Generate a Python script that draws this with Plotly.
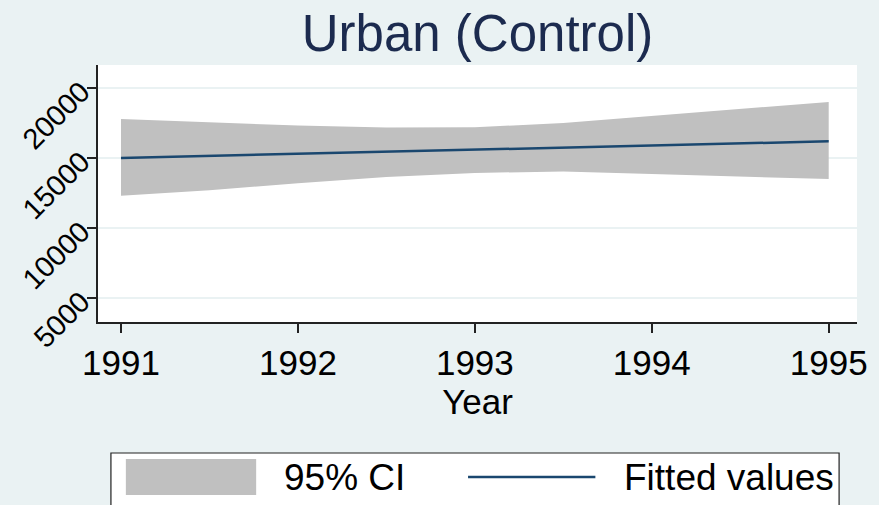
import plotly.graph_objects as go

# Linear fit of income on year with its 95% confidence band
band_years = [1991, 1991.5, 1992, 1992.5, 1993, 1993.5, 1994, 1994.5, 1995]
ci_upper = [17790, 17530, 17320, 17180, 17200, 17500, 18000, 18500, 19000]
ci_lower = [12300, 12700, 13200, 13650, 13930, 14040, 13850, 13680, 13500]

fit_years = [1991, 1995]
fit_values = [15000, 16190]

x_ticks = [1991, 1992, 1993, 1994, 1995]
y_ticks = [5000, 10000, 15000, 20000]

BG = "#EAF2F3"
NAVY = "#1A476F"
CI_GRAY = "#C0C0C0"
FONT = "Liberation Sans, Arial, sans-serif"

LEFT, RIGHT_MARGIN, TOP, BOTTOM = 98, 18, 65, 322
PLOT_W = 879 - RIGHT_MARGIN - LEFT
PLOT_H = BOTTOM - TOP

fig = go.Figure()

fig.add_trace(go.Scatter(
    x=band_years, y=ci_lower, mode="lines",
    line=dict(width=0, color=CI_GRAY), showlegend=False, hoverinfo="skip",
))
fig.add_trace(go.Scatter(
    x=band_years, y=ci_upper, mode="lines", fill="tonexty",
    fillcolor=CI_GRAY, line=dict(width=0, color=CI_GRAY),
    name="95% CI", showlegend=False,
))
fig.add_trace(go.Scatter(
    x=fit_years, y=fit_values, mode="lines",
    line=dict(color=NAVY, width=2.5), name="Fitted values", showlegend=False,
))

fig.update_layout(
    width=879, height=505,
    margin=dict(l=LEFT, r=RIGHT_MARGIN, t=TOP, b=505 - BOTTOM),
    paper_bgcolor=BG, plot_bgcolor="white",
    font=dict(family=FONT, color="black"),
    title=dict(
        text="Urban (Control)", x=0.5, xref="paper", xanchor="center",
        y=1 - 33 / 505, yref="container", yanchor="middle",
        font=dict(size=51, color="#1c2b4f", family=FONT),
    ),
)

fig.update_xaxes(
    range=[1990.87, 1995.16], tickvals=x_ticks, ticktext=[str(v) for v in x_ticks],
    showgrid=False, zeroline=False,
    showline=True, linecolor="#222222", linewidth=1.5,
    ticks="outside", ticklen=9, tickwidth=1.5, tickcolor="#222222",
    tickfont=dict(size=35, family=FONT),
    title=dict(text="Year", font=dict(size=35, family=FONT), standoff=2),
)
fig.update_yaxes(
    range=[3286, 21643], tickvals=y_ticks, ticktext=[str(v) for v in y_ticks],
    showgrid=True, gridcolor=BG, gridwidth=1.5, zeroline=False,
    showline=True, linecolor="#222222", linewidth=1.5,
    ticks="outside", ticklen=9, tickwidth=1.5, tickcolor="#222222",
    tickangle=-45, tickfont=dict(size=29, family=FONT),
)

# Legend panel below the plot
def px_x(px):
    return (px - LEFT) / PLOT_W

def px_y(py):
    return (BOTTOM - py) / PLOT_H

shapes = [
    dict(type="rect", xref="paper", yref="paper",
         x0=px_x(111), x1=px_x(843), y0=px_y(515), y1=px_y(453),
         line=dict(color="#222222", width=1.2), fillcolor="white", layer="above"),
    dict(type="rect", xref="paper", yref="paper",
         x0=px_x(126), x1=px_x(257), y0=px_y(495), y1=px_y(459),
         line=dict(width=0), fillcolor=CI_GRAY, layer="above"),
    dict(type="line", xref="paper", yref="paper",
         x0=px_x(470), x1=px_x(598), y0=px_y(477), y1=px_y(477),
         line=dict(color=NAVY, width=2.5), layer="above"),
]
annotations = [
    dict(text="95% CI", xref="paper", yref="paper", x=px_x(283), y=px_y(477),
         xanchor="left", yanchor="middle", showarrow=False,
         font=dict(size=37, family=FONT, color="black")),
    dict(text="Fitted values", xref="paper", yref="paper", x=px_x(625), y=px_y(477),
         xanchor="left", yanchor="middle", showarrow=False,
         font=dict(size=37, family=FONT, color="black")),
]
fig.update_layout(shapes=shapes, annotations=annotations)

fig.write_html("out.html")
